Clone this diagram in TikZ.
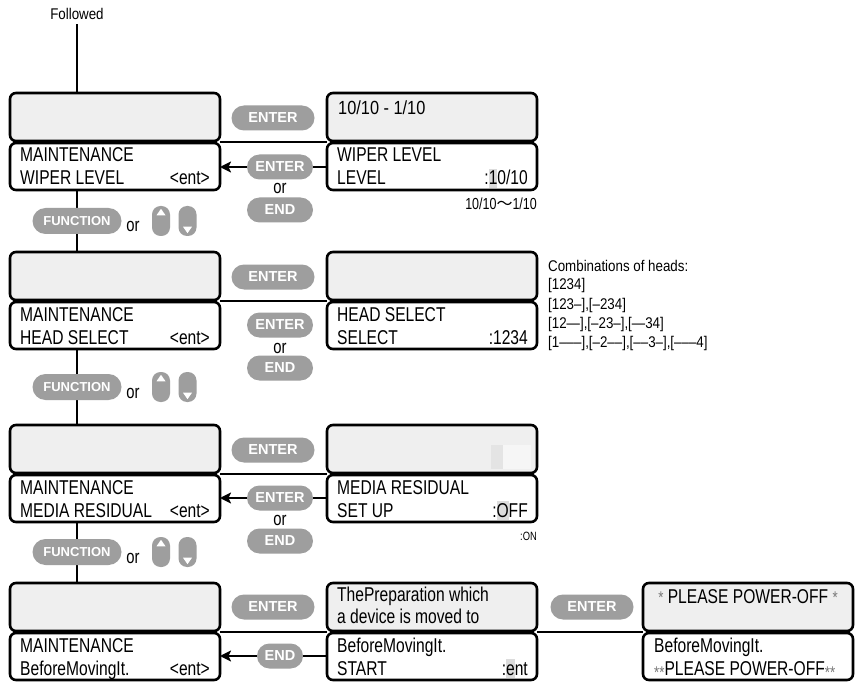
\documentclass[tikz,border=0pt]{standalone}
\usepackage{fontspec}
\setmainfont{Liberation Sans}
\newfontfamily\cond{Liberation Sans}[FakeStretch=0.78]
\newfontfamily\condn{Liberation Sans}[FakeStretch=0.86]
\newfontfamily\cjk{Noto Sans CJK SC}
\usetikzlibrary{arrows.meta,calc,backgrounds}
\definecolor{keygray}{HTML}{9E9E9E}
\definecolor{panel}{HTML}{EFEFEF}
\definecolor{hlgray}{HTML}{DCDCDC}
\definecolor{hlgrayb}{HTML}{E4E4E4}
\definecolor{hlgrayc}{HTML}{F6F6F6}
\definecolor{astgray}{HTML}{777777}
\newcommand\hl[1]{{\setlength{\fboxsep}{0pt}\colorbox{hlgray}{\rule[-3pt]{0pt}{19pt}#1}}}
\newcommand\smallast{{\color{astgray}\fontsize{17}{17}\selectfont *}}
\newcommand\lowast{\raisebox{-3pt}{\smallast}}
\begin{document}
\begin{tikzpicture}[x=1pt,y=-1pt,
  box/.style={draw=black, line width=2.6pt, rounded corners=6pt, minimum width=210pt, inner sep=0pt, outer sep=0pt},
  ubox/.style={box, fill=panel, minimum height=48pt},
  lbox/.style={box, fill=white, minimum height=47pt},
  txt/.style={inner sep=0pt, anchor=base west, font=\cond\fontsize{20}{22}\selectfont},
  rtxt/.style={txt, anchor=base east},
  note/.style={inner sep=0pt, anchor=base west, font=\condn\fontsize{15.5}{17}\selectfont},
  ortxt/.style={inner sep=0pt, anchor=base, font=\cond\fontsize{19}{19}\selectfont},
  key/.style={fill=keygray, text=white, rounded corners=12.5pt, minimum height=25pt, inner sep=0pt, font=\bfseries\fontsize{14.5}{14.5}\selectfont},
  wkey/.style={key, minimum width=83pt},
  nkey/.style={key, minimum width=66pt},
  fkey/.style={key, minimum width=89pt, minimum height=26pt, rounded corners=13pt, font=\bfseries\fontsize{13}{13}\selectfont},
  akey/.style={fill=keygray, minimum width=18pt, minimum height=30pt, rounded corners=8.5pt, inner sep=0pt},
  conn/.style={line width=2pt, draw=black},
  arr/.style={conn, -{Stealth[length=11pt,width=11pt,inset=2.5pt]}}
]
\useasboundingbox (0,0) rectangle (855,682);

% ---------- Followed
\node[inner sep=0pt, anchor=base, font=\condn\fontsize{15.5}{17}\selectfont] (Fol) at (77,20) {Followed};

% ---------- Row 1
\node[ubox] (L1u) at (115,117) {};
\node[lbox] (L1l) at (115,166.5) {};
\node[ubox] (M1u) at (432,117) {};
\node[lbox] (M1l) at (432,166.5) {};
\node[txt] (t1a) at (20,162) {MAINTENANCE};
\node[txt] (t1b) at (20,185) {WIPER LEVEL};
\node[rtxt] (t1c) at (210,185) {<ent>};
\node[note, font=\condn\fontsize{19}{20}\selectfont] (t1d) at (338,115) {10/10 - 1/10};
\node[txt] (t1e) at (337,162) {WIPER LEVEL};
\node[txt] (t1f) at (337,185) {LEVEL};
\node[rtxt] (t1g) at (528,185) {:\hl{1}0/10};
\node[inner sep=0pt, anchor=base east, font=\cond\fontsize{16}{17}\selectfont] (t1h) at (537,210) {10/10{\cjk ～}1/10};
\node[wkey] (K1a) at (273,118) {ENTER};
\node[nkey] (K1b) at (280,167) {ENTER};
\node[ortxt] (O1) at (280,194) {or};
\node[nkey] (K1c) at (280,210) {END};
\node[fkey] (F1) at (77,221) {FUNCTION};
\node[ortxt] (P1) at (133,232) {or};
\node[akey] (U1) at (161,221) {};
\node[akey] (D1) at (187.5,221) {};
\fill[white] ($(U1.north)+(0,3)$) -- ($(U1.north)+(4.5,9.5)$) -- ($(U1.north)+(-4.5,9.5)$) -- cycle;
\fill[white] ($(D1.south)+(0,-3)$) -- ($(D1.south)+(4.5,-9.5)$) -- ($(D1.south)+(-4.5,-9.5)$) -- cycle;

% ---------- Row 2
\node[ubox] (L2u) at (115,276) {};
\node[lbox] (L2l) at (115,325.5) {};
\node[ubox] (M2u) at (432,276) {};
\node[lbox] (M2l) at (432,325.5) {};
\node[txt] (t2a) at (20,321) {MAINTENANCE};
\node[txt] (t2b) at (20,344) {HEAD SELECT};
\node[rtxt] (t2c) at (210,344) {<ent>};
\node[txt] (t2e) at (337,321) {HEAD SELECT};
\node[txt] (t2f) at (337,344) {SELECT};
\node[rtxt] (t2g) at (528,344) {:1234};
\node[note] (n1) at (548,271) {Combinations of heads:};
\node[note] (n2) at (548,290) {[1234]};
\node[note] (n3) at (548,309) {[123–],[–234]};
\node[note] (n4) at (548,328) {[12—],[–23–],[—34]};
\node[note] (n5) at (548,347) {[1–––],[–2––],[––3–],[–––4]};
\node[wkey] (K2a) at (273,277) {ENTER};
\node[nkey] (K2b) at (280,325) {ENTER};
\node[ortxt] (O2) at (280,353) {or};
\node[nkey] (K2c) at (280,368) {END};
\node[fkey] (F2) at (77,387) {FUNCTION};
\node[ortxt] (P2) at (133,398) {or};
\node[akey] (U2) at (161,387) {};
\node[akey] (D2) at (187.5,387) {};
\fill[white] ($(U2.north)+(0,3)$) -- ($(U2.north)+(4.5,9.5)$) -- ($(U2.north)+(-4.5,9.5)$) -- cycle;
\fill[white] ($(D2.south)+(0,-3)$) -- ($(D2.south)+(4.5,-9.5)$) -- ($(D2.south)+(-4.5,-9.5)$) -- cycle;

% ---------- Row 3
\node[ubox] (L3u) at (115,449) {};
\node[lbox] (L3l) at (115,498.5) {};
\node[ubox] (M3u) at (432,449) {};
\node[lbox] (M3l) at (432,498.5) {};
\fill[hlgrayb] (491,445) rectangle (503,469);
\fill[hlgrayc] (503,445) rectangle (531,469);
\node[txt] (t3a) at (20,494) {MAINTENANCE};
\node[txt] (t3b) at (20,517) {MEDIA RESIDUAL};
\node[rtxt] (t3c) at (210,517) {<ent>};
\node[txt] (t3e) at (337,494) {MEDIA RESIDUAL};
\node[txt] (t3f) at (337,517) {SET UP};
\node[rtxt] (t3g) at (528,517) {:\hl{O}FF};
\node[inner sep=0pt, anchor=base east, font=\cond\fontsize{12}{13}\selectfont] (t3h) at (537,540) {:ON};
\node[wkey] (K3a) at (273,450) {ENTER};
\node[nkey] (K3b) at (280,498) {ENTER};
\node[ortxt] (O3) at (280,525) {or};
\node[nkey] (K3c) at (280,541) {END};
\node[fkey] (F3) at (77,552) {FUNCTION};
\node[ortxt] (P3) at (133,563) {or};
\node[akey] (U3) at (161,552) {};
\node[akey] (D3) at (187.5,552) {};
\fill[white] ($(U3.north)+(0,3)$) -- ($(U3.north)+(4.5,9.5)$) -- ($(U3.north)+(-4.5,9.5)$) -- cycle;
\fill[white] ($(D3.south)+(0,-3)$) -- ($(D3.south)+(4.5,-9.5)$) -- ($(D3.south)+(-4.5,-9.5)$) -- cycle;

% ---------- Row 4
\node[ubox] (L4u) at (115,607) {};
\node[lbox] (L4l) at (115,656.5) {};
\node[ubox] (M4u) at (432,607) {};
\node[lbox] (M4l) at (432,656.5) {};
\node[ubox] (R4u) at (748,607) {};
\node[lbox] (R4l) at (748,656.5) {};
\node[txt] (t4a) at (20,652) {MAINTENANCE};
\node[txt] (t4b) at (20,675) {BeforeMovingIt.};
\node[rtxt] (t4c) at (210,675) {<ent>};
\node[txt] (t4d) at (337,601) {ThePreparation which};
\node[txt] (t4e) at (337,623) {a device is moved to};
\node[txt] (t4f) at (337,652) {BeforeMovingIt.};
\node[txt] (t4g) at (337,675) {START};
\node[rtxt] (t4h) at (528,675) {:\hl{e}nt};
\node[txt, anchor=base] (t4i) at (748,603) {\smallast\ PLEASE POWER-OFF \smallast};
\node[txt] (t4j) at (654,652) {BeforeMovingIt.};
\node[txt] (t4k) at (654,675) {\lowast\lowast PLEASE POWER-OFF\lowast\lowast};
\node[wkey] (K4a) at (273,607) {ENTER};
\node[key, minimum width=46pt] (K4b) at (280,656) {END};
\node[wkey] (K4d) at (592,607) {ENTER};

% ---------- junctions
\coordinate (J1l) at ($(L1u.south east)!.5!(L1l.north east)$);
\coordinate (J1m) at ($(M1u.south west)!.5!(M1l.north west)$);
\coordinate (J2l) at ($(L2u.south east)!.5!(L2l.north east)$);
\coordinate (J2m) at ($(M2u.south west)!.5!(M2l.north west)$);
\coordinate (J3l) at ($(L3u.south east)!.5!(L3l.north east)$);
\coordinate (J3m) at ($(M3u.south west)!.5!(M3l.north west)$);
\coordinate (J4l) at ($(L4u.south east)!.5!(L4l.north east)$);
\coordinate (J4m) at ($(M4u.south west)!.5!(M4l.north west)$);
\coordinate (J4n) at ($(M4u.south east)!.5!(M4l.north east)$);
\coordinate (J4r) at ($(R4u.south west)!.5!(R4l.north west)$);

\begin{pgfonlayer}{background}
\fill[white] (0,0) rectangle (855,682);
\draw[conn, shorten <=4pt] (Fol.south) -- (Fol.south |- L1u.north);
\draw[conn] (F1 |- L1l.south) -- (F1 |- L2u.north);
\draw[conn] (F2 |- L2l.south) -- (F2 |- L3u.north);
\draw[conn] (F3 |- L3l.south) -- (F3 |- L4u.north);
\draw[conn] (J1l) -- (J1m);
\draw[conn] (J2l) -- (J2m);
\draw[conn] (J3l) -- (J3m);
\draw[conn] (J4l) -- (J4m);
\draw[conn] (J4n) -- (J4r);
\draw[arr] (M1l.west |- K1b) -- (L1l.east |- K1b);
\draw[arr] (M3l.west |- K3b) -- (L3l.east |- K3b);
\draw[arr] (M4l.west |- K4b) -- (L4l.east |- K4b);
\end{pgfonlayer}
\end{tikzpicture}
\end{document}
